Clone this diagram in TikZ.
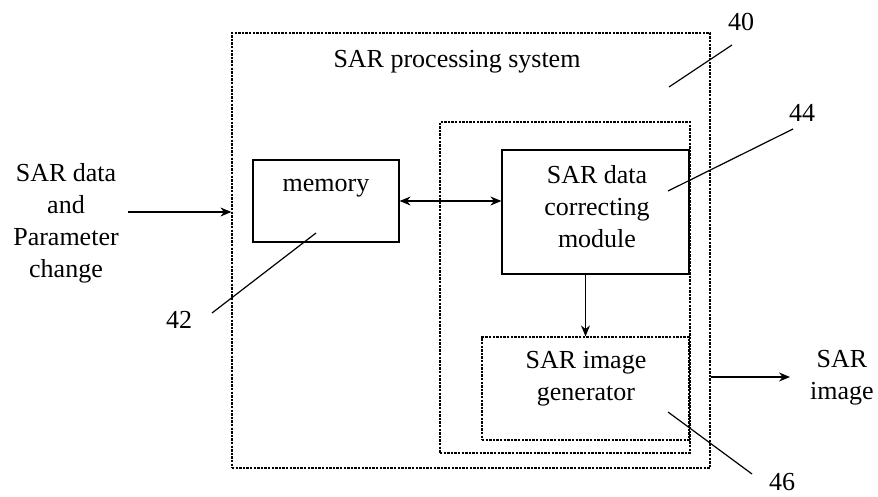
\documentclass[tikz,border=0pt]{standalone}
\usepackage{fontspec}
\setmainfont{Liberation Serif}
\usetikzlibrary{arrows.meta}
\begin{document}
\begin{tikzpicture}[x=0.5pt,y=-0.5pt,
  every node/.style={font=\fontsize{13}{16}\selectfont},
  solidbox/.style={draw, line width=0.6pt, inner sep=0pt},
  dotbox/.style={draw, line width=0.6pt, inner sep=0pt, dash pattern=on 1.2pt off 0.6pt},
  txt/.style={align=center, inner sep=0pt},
  arr/.style={line width=0.6pt, -{Stealth[length=5.5pt,width=4.5pt]}},
  darr/.style={line width=0.6pt, {Stealth[length=5.5pt,width=4.5pt]}-{Stealth[length=5.5pt,width=4.5pt]}},
  lead/.style={line width=0.6pt}]
\useasboundingbox (0,0) rectangle (878,497);
% boxes
\node[dotbox, minimum width=239pt, minimum height=217.5pt] (outer) at (471,250.5) {};
\node[dotbox, minimum width=125pt, minimum height=165.5pt] (inner) at (565,287.5) {};
\node[solidbox, minimum width=93.5pt, minimum height=62pt] (corr) at (595.5,212) {};
\node[dotbox, minimum width=103.5pt, minimum height=51.5pt] (gen) at (585.5,388.5) {};
\node[solidbox, minimum width=73pt, minimum height=41pt] (mem) at (326,201) {};
% texts
\node[txt] (title) at (457,62) {SAR processing system};
\node[txt] (memt) at (326,188) {memory};
\node[txt] (corrt) at (597,207) {SAR data\\correcting\\module};
\node[txt] (gent) at (586,379) {SAR image\\generator};
\node[txt] (inlab) at (66,223) {SAR data\\and\\Parameter\\change};
\node[txt] (outlab) at (842,377.5) {SAR\\image};
\node[txt] (n40) at (741,22) {40};
\node[txt] (n44) at (802,113) {44};
\node[txt] (n42) at (179,320) {42};
\node[txt] (n46) at (782,482) {46};
% connectors
\coordinate (inA) at (128,212);
\draw[arr] (inA) -- (inA -| outer.west);
\draw[darr] (mem.east) -- (mem.east -| corr.west);
\draw[arr] (gen.north |- corr.south) -- (gen.north);
\coordinate (outA) at (790,377);
\draw[arr] (outA -| outer.east) -- (outA);
% leaders
\coordinate (l40a) at (669,87); \coordinate (l40b) at (732,45);
\draw[lead] (l40a) -- (l40b);
\coordinate (l44a) at (668,191); \coordinate (l44b) at (793,129);
\draw[lead] (l44a) -- (l44b);
\coordinate (l42a) at (316,233); \coordinate (l42b) at (212,313);
\draw[lead] (l42a) -- (l42b);
\coordinate (l46a) at (668,412); \coordinate (l46b) at (752,474);
\draw[lead] (l46a) -- (l46b);
\end{tikzpicture}
\end{document}
